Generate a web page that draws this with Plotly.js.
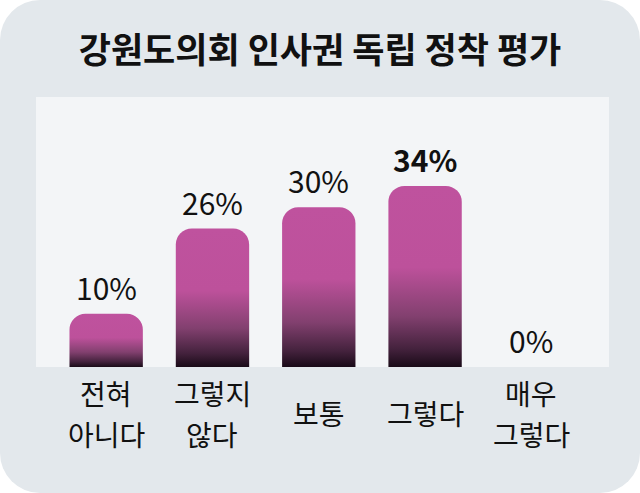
<!DOCTYPE html>
<html>
<head>
<meta charset="utf-8">
<script src="https://cdn.plot.ly/plotly-3.0.1.min.js"></script>
<style>
  html, body { margin: 0; padding: 0; background: #ffffff; }
  #wrap { width: 640px; height: 493px; border-radius: 40px; background: #e3e8ec; overflow: hidden; }
  #chart { width: 640px; height: 493px; }
</style>
</head>
<body>
<div id="wrap"><div id="chart"></div></div>
<script>
// Data
const categoryLines = [["전혀", "아니다"], ["그렇지", "않다"], ["보통"], ["그렇다"], ["매우", "그렇다"]];
const values = [10, 26, 30, 34, 0];
const valueLabels = ["10%", "26%", "30%", "34%", "0%"];
const highlightIndex = 3;
const titleText = "강원도의회 인사권 독립 정착 평가";

const FONT = "'Noto Sans CJK KR', 'Noto Sans', sans-serif";
const xIdx = categoryLines.map((_, i) => i);

const trace = {
  type: "bar",
  x: xIdx,
  y: values,
  width: 0.69,
  marker: { color: "#bf529e", cornerradius: 16, line: { width: 0 } },
  hoverinfo: "skip"
};

const PLOT_H = 270;          // plot height in px (493 - 97 - 126)
const LABEL_MID = -46;       // px below baseline for category block centre
const LINE_GAP = 41;         // px between category lines

const annotations = [];
values.forEach((v, i) => {
  annotations.push({
    x: i, y: v, xref: "x", yref: "y",
    text: valueLabels[i],
    showarrow: false, yanchor: "bottom", yshift: 3,
    font: { family: FONT, size: 30, color: "#111111", weight: i === highlightIndex ? 700 : 400 }
  });
  const lines = categoryLines[i];
  lines.forEach((ln, j) => {
    const offPx = LABEL_MID - (j - (lines.length - 1) / 2) * LINE_GAP;
    annotations.push({
      x: i, y: offPx / PLOT_H, xref: "x", yref: "paper",
      text: ln,
      showarrow: false, yanchor: "middle",
      font: { family: FONT, size: 28, color: "#111111" }
    });
  });
});

const layout = {
  width: 640, height: 493,
  margin: { l: 36, r: 31, t: 97, b: 126 },
  paper_bgcolor: "rgba(0,0,0,0)",
  plot_bgcolor: "#f3f5f7",
  showlegend: false,
  title: {
    text: "<b>" + titleText + "</b>",
    x: 0.5, xanchor: "center", y: 0.897, yref: "container", yanchor: "middle",
    font: { family: FONT, size: 35, color: "#111111" }
  },
  xaxis: { range: [-0.66, 4.73], showticklabels: false, showgrid: false, zeroline: false, ticks: "", fixedrange: true },
  yaxis: { range: [0, 50.7], showticklabels: false, showgrid: false, zeroline: false, ticks: "", fixedrange: true },
  annotations: annotations
};

Plotly.newPlot("chart", [trace], layout, { staticPlot: true, displayModeBar: false }).then(gd => {
  const svg = gd.querySelector("svg.main-svg");
  const ns = "http://www.w3.org/2000/svg";
  let defs = svg.querySelector("defs");
  if (!defs) { defs = document.createElementNS(ns, "defs"); svg.insertBefore(defs, svg.firstChild); }
  const grad = document.createElementNS(ns, "linearGradient");
  grad.setAttribute("id", "barGrad");
  grad.setAttribute("x1", "0"); grad.setAttribute("y1", "0");
  grad.setAttribute("x2", "0"); grad.setAttribute("y2", "1");
  [["0", "#bf529e"], ["0.45", "#bd519b"], ["0.72", "#82406f"], ["0.9", "#44223d"], ["1", "#190a17"]].forEach(([o, c]) => {
    const s = document.createElementNS(ns, "stop");
    s.setAttribute("offset", o); s.setAttribute("stop-color", c);
    grad.appendChild(s);
  });
  defs.appendChild(grad);
  gd.querySelectorAll(".barlayer .point path").forEach(p => { p.style.fill = "url(#barGrad)"; });
});
</script>
</body>
</html>
